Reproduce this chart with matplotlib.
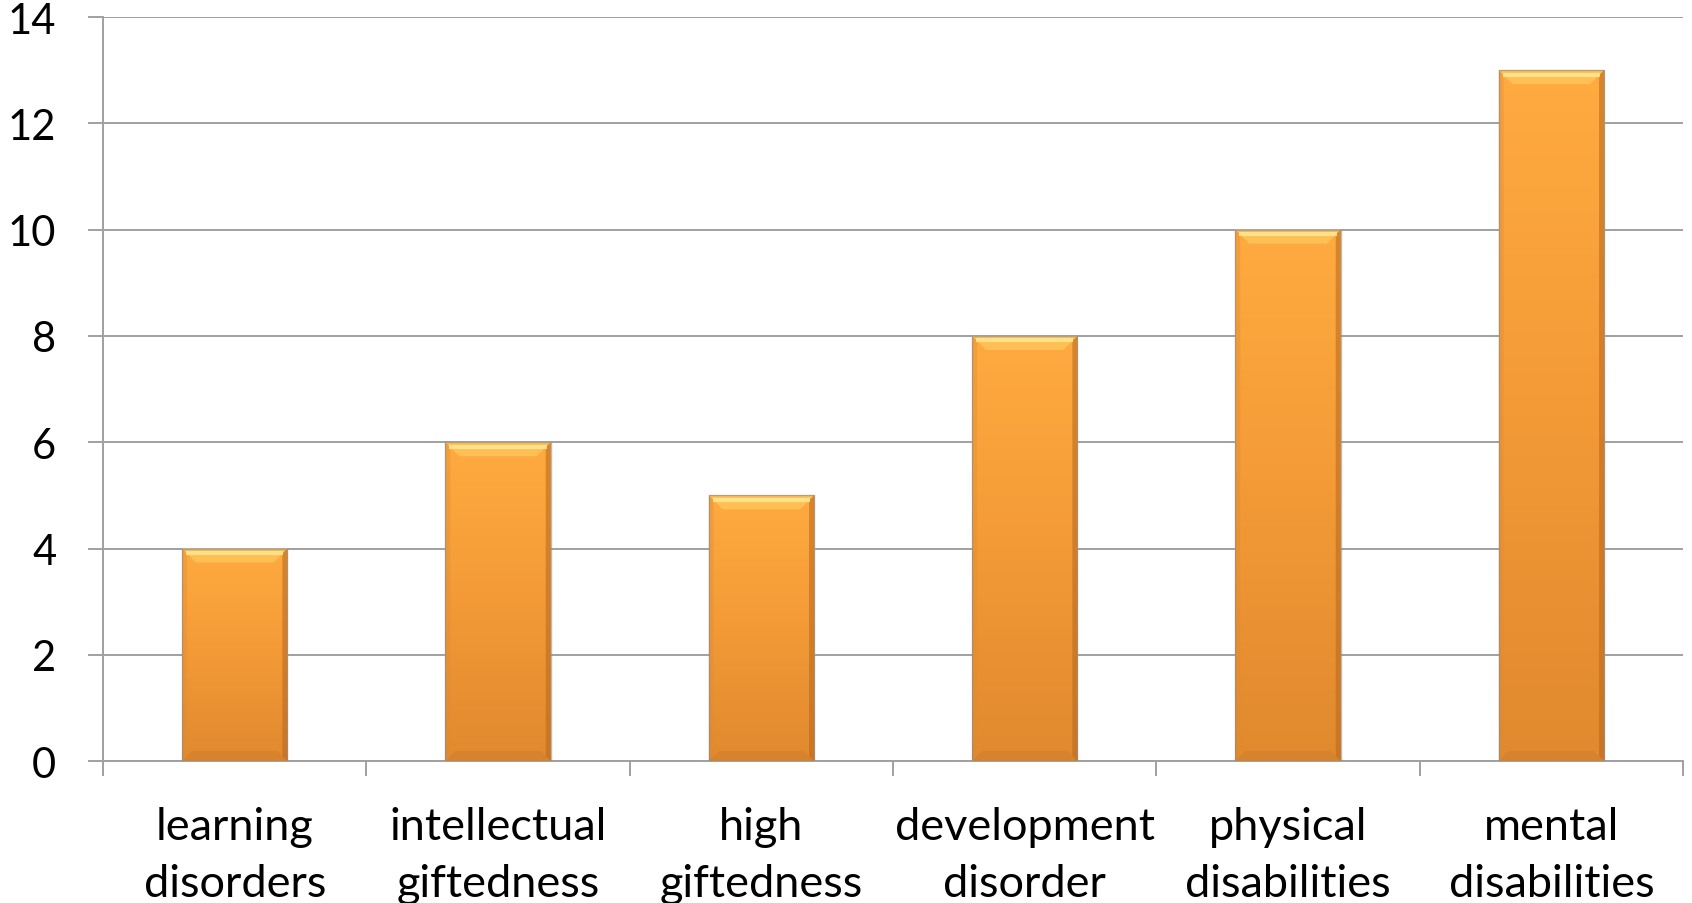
import numpy as np
import matplotlib
matplotlib.use("Agg")
import matplotlib.pyplot as plt
from matplotlib.patches import Polygon
from matplotlib.colors import LinearSegmentedColormap

categories = ["learning\ndisorders", "intellectual\ngiftedness", "high\ngiftedness",
              "development\ndisorder", "physical\ndisabilities", "mental\ndisabilities"]
values = [4, 6, 5, 8, 10, 13]
y_ticks = [0, 2, 4, 6, 8, 10, 12, 14]

plt.rcParams['font.family'] = ['Lato', 'DejaVu Sans']

fig = plt.figure(figsize=(16.92, 9.04), dpi=100)
ax = fig.add_axes([0.0609, 0.157, 0.9338, 0.823])

grid_col = '#a0a0a0'
x = np.arange(len(categories))
bar_w = 0.4

bars = ax.bar(x, values, width=bar_w, color='#f29a36', edgecolor='none', zorder=3)

# vertical orange gradient inside each bar
cmap = LinearSegmentedColormap.from_list('orange', ['#e0892e', '#f39a37', '#ffab40'])
grad = np.linspace(0, 1, 256).reshape(-1, 1)

# bevel sizes expressed in data units (approx. 10 px)
dx = 10 * 6.0 / 1580
dy = 10 * 14.0 / 744

for rect in bars:
    x0 = rect.get_x()
    x1 = x0 + rect.get_width()
    h = rect.get_height()
    im = ax.imshow(grad, cmap=cmap, extent=[x0, x1, 0, h], origin='lower',
                   aspect='auto', zorder=3.1, interpolation='bilinear')
    im.set_clip_path(rect)
    # top bevel
    ax.add_patch(Polygon([(x0, h), (x1, h), (x1 - dx * 1.4, h - dy * 1.4), (x0 + dx * 1.4, h - dy * 1.4)],
                         closed=True, facecolor='#ffc65a', edgecolor='none',
                         alpha=0.8, zorder=3.2))
    ax.plot([x0 + dx * 0.4, x1 - dx * 0.4], [h - dy * 0.45, h - dy * 0.45],
            color='#ffe590', lw=3.0, alpha=0.9, zorder=3.3, solid_capstyle='butt')
    # right bevel
    ax.add_patch(Polygon([(x1, h), (x1, 0), (x1 - dx * 0.5, dy * 0.5), (x1 - dx * 0.5, h - dy * 0.5)],
                         closed=True, facecolor='#b8661c', edgecolor='none',
                         alpha=0.55, zorder=3.2))
    # bottom bevel
    ax.add_patch(Polygon([(x0, 0), (x1, 0), (x1 - dx, dy), (x0 + dx, dy)],
                         closed=True, facecolor='#c8772a', edgecolor='none',
                         alpha=0.35, zorder=3.2))
    # left bevel
    ax.add_patch(Polygon([(x0, 0), (x0, h), (x0 + dx * 0.5, h - dy * 0.5), (x0 + dx * 0.5, dy * 0.5)],
                         closed=True, facecolor='#e08a30', edgecolor='none',
                         alpha=0.35, zorder=3.2))
    # soft outline
    ax.add_patch(Polygon([(x0, 0), (x0, h), (x1, h), (x1, 0)], closed=True,
                         facecolor='none', edgecolor='#8c8c8c', lw=1.0, alpha=0.6, zorder=3.4))

ax.set_xlim(-0.5, len(categories) - 0.5)
ax.set_ylim(0, 14)

ax.set_yticks(y_ticks)
ax.set_yticklabels([str(v) for v in y_ticks])
ax.yaxis.grid(True, color=grid_col, lw=1.4, zorder=0)
ax.set_axisbelow(True)

ax.set_xticks(x)
ax.set_xticklabels(categories, linespacing=1.5)
ax.set_xticks(np.arange(-0.5, len(categories), 1.0), minor=True)

ax.tick_params(axis='y', which='major', length=10.8, width=1.4, color=grid_col,
               labelsize=30, pad=23, direction='out')
ax.tick_params(axis='x', which='major', length=0, labelsize=32.5, pad=32)
ax.tick_params(axis='x', which='minor', length=10.8, width=1.4, color=grid_col,
               direction='out')

for s in ['top', 'right']:
    ax.spines[s].set_visible(False)
for s in ['left', 'bottom']:
    ax.spines[s].set_color(grid_col)
    ax.spines[s].set_linewidth(1.4)

fig.savefig('out.png', dpi=100)
